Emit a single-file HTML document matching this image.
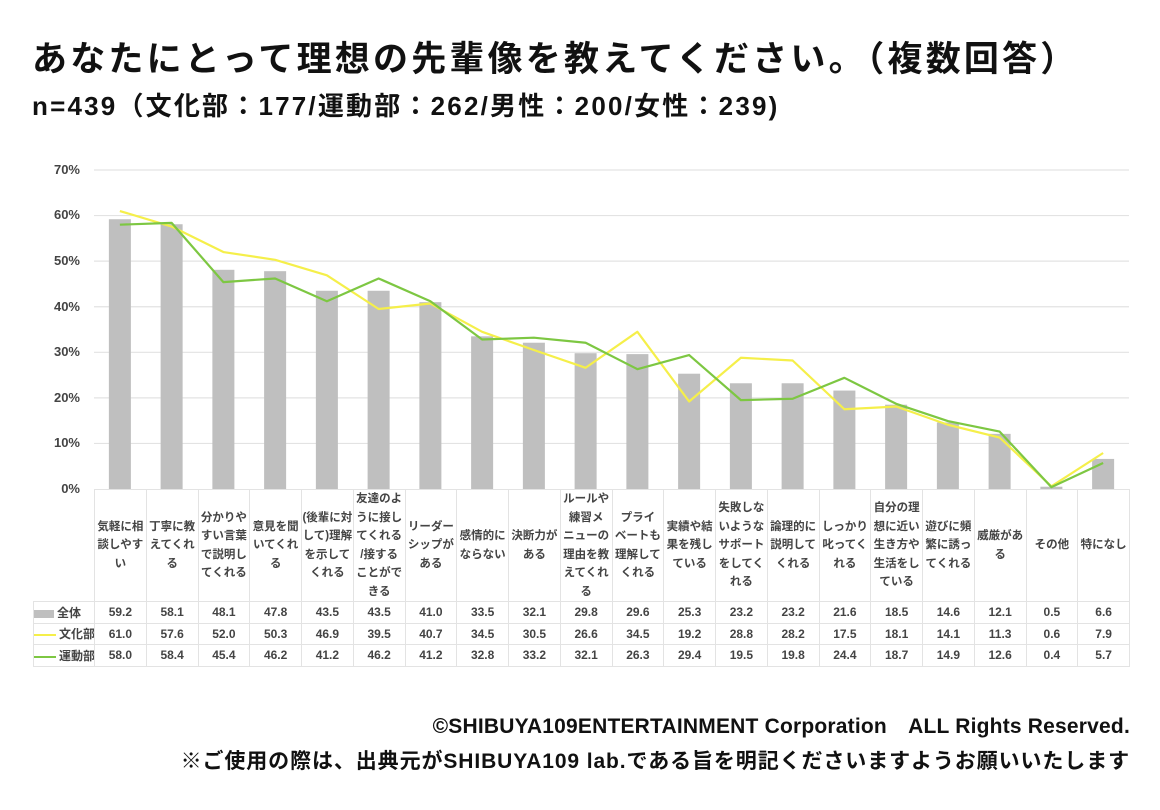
<!DOCTYPE html>
<html><head><meta charset="utf-8">
<style>
body{margin:0;width:1160px;height:810px;background:#fff;font-family:"Liberation Sans","Noto Sans CJK JP",sans-serif;color:#111;position:relative;overflow:hidden}
.t1{position:absolute;left:32px;top:38px;font-size:35px;font-weight:bold;white-space:nowrap;letter-spacing:3.2px;line-height:44px}
.t2{position:absolute;left:32px;top:90px;font-size:26px;font-weight:bold;white-space:nowrap;letter-spacing:2.2px;line-height:32px}
.ft{position:absolute;right:30px;font-size:21px;font-weight:bold;white-space:nowrap;letter-spacing:0.2px}
.yl{position:absolute;left:40px;width:40px;text-align:right;font-size:13px;font-weight:bold;color:#444}
table{position:absolute;left:33px;top:489px;border-collapse:collapse;font-size:11.5px;font-weight:bold;color:#444;table-layout:fixed;width:1096px}
td{border:1.5px solid #e3e3e3;text-align:center;padding:0;overflow:hidden;white-space:nowrap}
tr.h td{height:110px;line-height:18.5px;vertical-align:middle}
tr.d td{height:20.5px;font-size:12px}
td.lg{text-align:left;white-space:nowrap}
tr.h td.lg{border:none;border-right:1.5px solid #e3e3e3}
.sw{display:inline-block;vertical-align:middle;margin-right:3px}
</style></head><body>
<div class="t1">あなたにとって理想の先輩像を教えてください。（複数回答）</div>
<div class="t2">n=439（文化部：177/運動部：262/男性：200/女性：239)</div>
<div class="yl" style="top:162px">70%</div>
<div class="yl" style="top:207px">60%</div>
<div class="yl" style="top:253px">50%</div>
<div class="yl" style="top:299px">40%</div>
<div class="yl" style="top:344px">30%</div>
<div class="yl" style="top:390px">20%</div>
<div class="yl" style="top:435px">10%</div>
<div class="yl" style="top:481px">0%</div>
<svg id="s" width="1160" height="810" style="position:absolute;left:0;top:0"></svg>
<table>
<colgroup><col style="width:61px"><col span="20" style="width:51.75px"></colgroup>
<tr class="h"><td class="lg"></td>
<td>気軽に相<br>談しやす<br>い</td><td>丁寧に教<br>えてくれ<br>る</td><td>分かりや<br>すい言葉<br>で説明し<br>てくれる</td><td>意見を聞<br>いてくれ<br>る</td><td>(後輩に対<br>して)理解<br>を示して<br>くれる</td><td>友達のよ<br>うに接し<br>てくれる<br>/接する<br>ことがで<br>きる</td><td>リーダー<br>シップが<br>ある</td><td>感情的に<br>ならない</td><td>決断力が<br>ある</td><td>ルールや<br>練習メ<br>ニューの<br>理由を教<br>えてくれ<br>る</td><td>プライ<br>ベートも<br>理解して<br>くれる</td><td>実績や結<br>果を残し<br>ている</td><td>失敗しな<br>いような<br>サポート<br>をしてく<br>れる</td><td>論理的に<br>説明して<br>くれる</td><td>しっかり<br>叱ってく<br>れる</td><td>自分の理<br>想に近い<br>生き方や<br>生活をし<br>ている</td><td>遊びに頻<br>繁に誘っ<br>てくれる</td><td>威厳があ<br>る</td><td>その他</td><td>特になし</td></tr>
<tr class="d"><td class="lg"><span class="sw" style="width:20px;height:8px;background:#bfbfbf"></span>全体</td><td>59.2</td><td>58.1</td><td>48.1</td><td>47.8</td><td>43.5</td><td>43.5</td><td>41.0</td><td>33.5</td><td>32.1</td><td>29.8</td><td>29.6</td><td>25.3</td><td>23.2</td><td>23.2</td><td>21.6</td><td>18.5</td><td>14.6</td><td>12.1</td><td>0.5</td><td>6.6</td></tr>
<tr class="d"><td class="lg"><span class="sw" style="width:22px;height:2px;background:#f5ef4a"></span>文化部</td><td>61.0</td><td>57.6</td><td>52.0</td><td>50.3</td><td>46.9</td><td>39.5</td><td>40.7</td><td>34.5</td><td>30.5</td><td>26.6</td><td>34.5</td><td>19.2</td><td>28.8</td><td>28.2</td><td>17.5</td><td>18.1</td><td>14.1</td><td>11.3</td><td>0.6</td><td>7.9</td></tr>
<tr class="d"><td class="lg"><span class="sw" style="width:22px;height:2px;background:#7dc742"></span>運動部</td><td>58.0</td><td>58.4</td><td>45.4</td><td>46.2</td><td>41.2</td><td>46.2</td><td>41.2</td><td>32.8</td><td>33.2</td><td>32.1</td><td>26.3</td><td>29.4</td><td>19.5</td><td>19.8</td><td>24.4</td><td>18.7</td><td>14.9</td><td>12.6</td><td>0.4</td><td>5.7</td></tr>
</table>
<div class="ft" style="top:710px">©SHIBUYA109ENTERTAINMENT Corporation　ALL Rights Reserved.</div>
<div class="ft" style="top:745px;letter-spacing:0.9px">※ご使用の際は、出典元がSHIBUYA109 lab.である旨を明記くださいますようお願いいたします</div>
<script>
var a=[59.2,58.1,48.1,47.8,43.5,43.5,41.0,33.5,32.1,29.8,29.6,25.3,23.2,23.2,21.6,18.5,14.6,12.1,0.5,6.6],
b=[61.0,57.6,52.0,50.3,46.9,39.5,40.7,34.5,30.5,26.6,34.5,19.2,28.8,28.2,17.5,18.1,14.1,11.3,0.6,7.9],
c=[58.0,58.4,45.4,46.2,41.2,46.2,41.2,32.8,33.2,32.1,26.3,29.4,19.5,19.8,24.4,18.7,14.9,12.6,0.4,5.7];
var x0=94,w=51.75,y0=489,k=4.557,h='';
for(var i=1;i<=7;i++){var y=y0-i*10*k;h+='<line x1="94" x2="1129" y1="'+y+'" y2="'+y+'" stroke="#e3e3e3" stroke-width="1.2"/>';}
for(var i=0;i<20;i++){var cx=x0+w*(i+.5);h+='<rect x="'+(cx-11)+'" y="'+(y0-a[i]*k)+'" width="22" height="'+(a[i]*k)+'" fill="#bfbfbf"/>';}
function pl(d,col){var p=d.map(function(v,i){return (x0+w*(i+.5))+','+(y0-v*k)}).join(' ');return '<polyline points="'+p+'" fill="none" stroke="'+col+'" stroke-width="2.2" stroke-linejoin="round"/>';}
h+=pl(b,'#f5ef4a')+pl(c,'#7dc742');
document.getElementById('s').innerHTML=h;
</script>
</body></html>
